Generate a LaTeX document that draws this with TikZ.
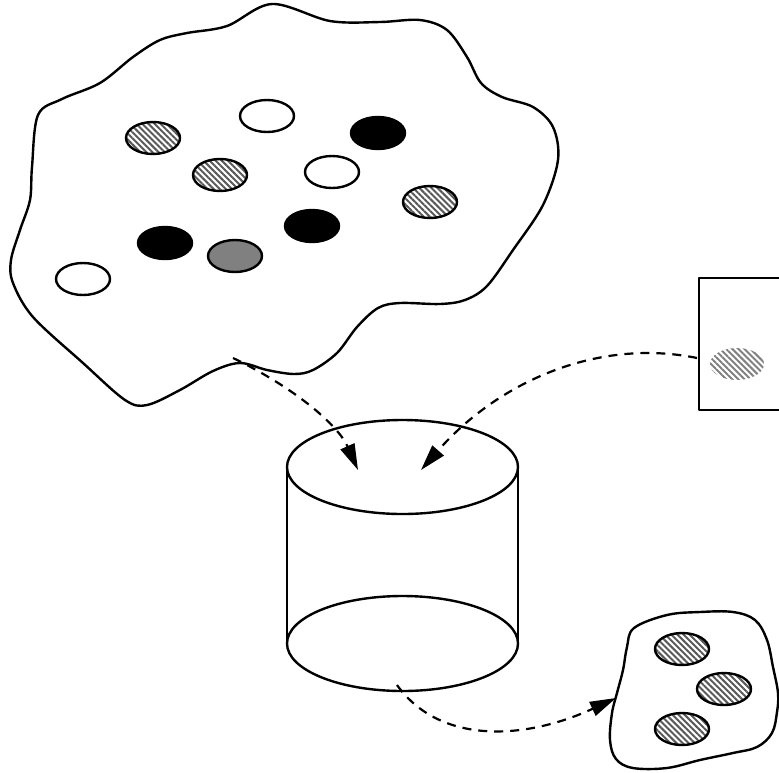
\documentclass[tikz,border=0pt]{standalone}
\usetikzlibrary{shapes.geometric,patterns.meta,arrows.meta}
\tikzset{
  outline/.style={line width=2.4pt, line join=round},
  disc/.style={ellipse, inner sep=0pt, minimum width=54pt, minimum height=32pt, line width=2.4pt},
  emptydisc/.style={disc, draw=black, fill=white},
  darkdisc/.style={disc, draw=black, fill=black},
  greydisc/.style={disc, draw=black, fill=black!50},
  stripedisc/.style={disc, draw=black, pattern={Lines[angle=-45,distance=4.3pt,line width=2pt]}, pattern color=black!65},
  faintdisc/.style={disc, pattern={Lines[angle=-45,distance=4.3pt,line width=2pt]}, pattern color=black!50},
  flow/.style={line width=2.2pt, dash pattern=on 9pt off 7pt, -{Triangle[length=26pt,width=15pt]}}
}
\begin{document}
\begin{tikzpicture}[x=1pt,y=-1pt]
\useasboundingbox (0,0) rectangle (779,772);
\clip (0,0) rectangle (779,772);

% large irregular region
\draw[outline] plot[smooth cycle, tension=0.55] coordinates {
  (32,167) (38,115) (62,99) (100,83) (133,57) (160,40) (187,33) (227,26)
  (272,4) (330,21) (380,22) (420,20) (447,30) (467,57) (481,83) (502,97)
  (533,107) (553,127) (558,160) (543,205) (513,250) (487,286) (465,300)
  (440,304) (400,303) (378,308) (357,327) (337,353) (313,370) (294,374)
  (267,370) (240,363) (213,371) (180,390) (147,405) (125,400) (83,363)
  (33,317) (13,283) (11,260) (20,230) (30,200)};

% items inside the large region
\node[stripedisc] (s1) at (153,138) {};
\node[emptydisc]  (e1) at (267,116) {};
\node[darkdisc]   (d1) at (378,133) {};
\node[stripedisc] (s2) at (220,175) {};
\node[emptydisc]  (e2) at (332,172) {};
\node[stripedisc] (s3) at (430,202) {};
\node[darkdisc]   (d2) at (312,226) {};
\node[darkdisc]   (d3) at (165,243) {};
\node[greydisc]   (g1) at (235,256) {};
\node[emptydisc]  (e3) at (83,279) {};

% framed box on the right edge
\draw[outline] (790,278) -- (699,278) -- (699,410) -- (790,410);
\node[faintdisc] (q1) at (737,364) {};

% cylinder
\draw[outline] (287,467) -- (287,643.5);
\draw[outline] (518,467) -- (518,643.5);
\draw[outline, fill=white] (402.5,467) ellipse [x radius=115.5pt, y radius=47pt];
\draw[outline] (402.5,643.5) ellipse [x radius=115.5pt, y radius=47.5pt];

% small region at the lower right
\draw[outline] plot[smooth cycle, tension=0.6] coordinates {
  (634,628) (667,615) (700,612) (733,612) (755,620) (767,640) (773,667)
  (778,693) (777,712) (772,733) (757,747) (733,753) (700,760) (667,768)
  (633,768) (616,759) (610,740) (612,713) (617,693) (623,670) (627,647)};
\node[stripedisc] (r1) at (682,649) {};
\node[stripedisc] (r2) at (724,689) {};
\node[stripedisc] (r3) at (682,729) {};

% connector end points
\coordinate (srcA) at (233,358);
\coordinate (dstA) at (358,470);
\coordinate (srcB) at (697,358);
\coordinate (dstB) at (421,470);
\coordinate (srcC) at (397,685);
\coordinate (dstC) at (616,698);

\draw[flow] (srcA) .. controls (295,388) and (338,425) .. (dstA);
\draw[flow] (srcB) .. controls (600,338) and (500,380) .. (dstB);
\draw[flow] (srcC) .. controls (440,745) and (525,740) .. (dstC);
\end{tikzpicture}
\end{document}
